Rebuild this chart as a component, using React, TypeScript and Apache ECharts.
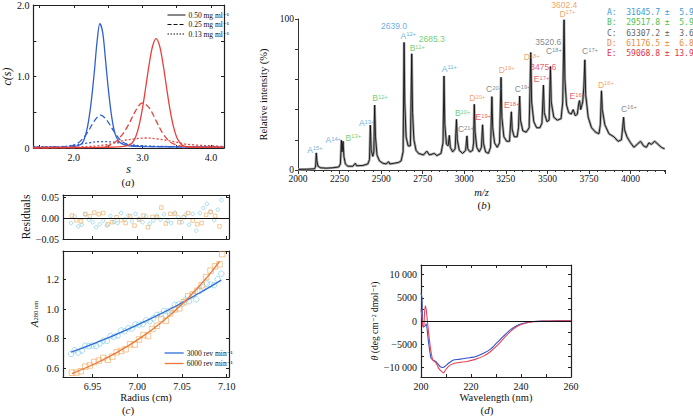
import React, { useEffect, useRef } from 'react';
import * as echarts from 'echarts';

const SERIF = "'Liberation Serif', 'DejaVu Serif', serif";
const SANS = "'Liberation Sans', 'DejaVu Sans', sans-serif";
const MONO = "'DejaVu Sans Mono', 'Liberation Mono', monospace";

// ---------- (a) c(s) distributions: [s, c(s)]
const aBlue050 = [[1.41,0.01],[1.9,0.01],[2.0,0.02],[2.1,0.05],[2.15,0.12],[2.2,0.3],[2.25,0.62],[2.3,1.08],[2.34,1.5],[2.38,1.74],[2.42,1.62],[2.46,1.25],[2.5,0.85],[2.55,0.45],[2.6,0.2],[2.65,0.1],[2.7,0.06],[2.8,0.03],[3.0,0.02],[4.19,0.01]];
const aBlue025 = [[1.41,0.01],[1.9,0.02],[2.0,0.04],[2.1,0.1],[2.2,0.22],[2.3,0.38],[2.39,0.46],[2.48,0.39],[2.58,0.24],[2.68,0.11],[2.78,0.05],[2.9,0.03],[3.2,0.02],[4.19,0.01]];
const aBlue013 = [[1.41,0.02],[1.8,0.02],[2.0,0.04],[2.2,0.07],[2.4,0.09],[2.6,0.08],[2.8,0.05],[3.0,0.03],[3.5,0.02],[4.19,0.02]];
const aRed050 = [[1.41,0.0],[2.4,0.01],[2.7,0.02],[2.8,0.04],[2.85,0.07],[2.9,0.15],[2.95,0.31],[3.0,0.55],[3.05,0.86],[3.1,1.18],[3.15,1.43],[3.2,1.53],[3.25,1.43],[3.3,1.18],[3.35,0.86],[3.4,0.55],[3.45,0.31],[3.5,0.15],[3.55,0.07],[3.6,0.03],[3.7,0.01],[4.19,0.01]];
const aRed025 = [[1.41,0.0],[2.4,0.01],[2.5,0.03],[2.6,0.08],[2.7,0.18],[2.8,0.33],[2.9,0.52],[3.0,0.63],[3.1,0.56],[3.2,0.38],[3.3,0.2],[3.4,0.09],[3.5,0.04],[3.6,0.02],[4.19,0.01]];
const aRed013 = [[1.41,0.01],[2.2,0.02],[2.5,0.05],[2.7,0.1],[2.9,0.13],[3.05,0.14],[3.2,0.13],[3.4,0.1],[3.6,0.06],[3.8,0.04],[4.0,0.03],[4.19,0.02]];
const aLegend = ['0.50 mg ml\u207B\u00B9', '0.25 mg ml\u207B\u00B9', '0.13 mg ml\u207B\u00B9'];

// ---------- (b) mass spectrum: [m/z, relative intensity]
const spectrum = [[2000,0.4],[2050,0.5],[2100,0.8],[2106,2.5],[2110,11.3],[2114,6],[2120,2.5],[2135,1.5],[2170,1.2],[2210,1.5],[2245,2],[2255,4],[2261,19.7],[2265,12],[2271,19],[2276,9],[2285,4],[2300,2.5],[2330,2.5],[2345,4.5],[2352,2.8],[2390,3],[2420,4],[2430,7],[2435,29.7],[2440,13],[2450,9],[2456,12],[2461,43],[2466,22],[2475,10],[2490,6],[2510,4.5],[2530,4],[2545,5.5],[2552,4],[2580,4.5],[2605,5],[2620,6],[2632,12],[2638,84.5],[2642,45],[2650,22],[2662,16],[2676,16],[2684,77],[2689,38],[2697,20],[2710,13],[2725,11],[2755,10],[2775,12.5],[2790,10],[2820,11],[2835,9.5],[2860,11],[2872,18],[2878,62.3],[2883,30],[2893,17],[2903,16],[2910,23],[2916,15],[2930,12],[2945,14],[2953,33.5],[2958,20],[2970,13],[2990,11],[3008,13],[3016,22.6],[3021,14],[3035,12],[3050,13],[3056,18],[3060,43.5],[3065,25],[3075,15],[3090,12],[3103,15],[3110,30],[3115,18],[3128,12],[3145,11],[3158,15],[3166,48.6],[3171,28],[3182,18],[3198,15],[3212,18],[3221,61.4],[3226,35],[3238,22],[3255,19],[3272,19],[3283,38.6],[3288,27],[3300,22],[3318,22],[3326,28],[3333,49],[3338,33],[3352,26],[3372,25],[3390,28],[3400,77.8],[3405,45],[3418,32],[3435,28],[3455,28],[3467,31],[3476,56.3],[3481,38],[3497,32],[3510,33],[3518,68.5],[3523,45],[3538,35],[3560,33],[3582,34],[3592,45],[3600,99.5],[3605,60],[3615,43],[3628,38],[3643,37],[3655,40],[3667,36],[3680,37],[3688,44],[3693,46],[3700,40],[3712,45],[3719,55],[3725,73],[3730,50],[3745,35],[3765,28],[3790,25],[3810,24],[3818,30],[3825,52.5],[3830,40],[3845,30],[3870,24],[3900,22],[3925,19],[3945,20],[3952,28],[3958,35],[3963,27],[3978,22],[4000,18],[4020,15],[4040,17],[4060,19],[4078,16],[4095,15],[4110,18],[4125,17],[4145,19],[4165,17],[4185,15],[4205,14]];
// charge-state annotations: [charge, m/z, intensity] where the label sits
const ionsA = [['15+',2102,13.5],['14+',2212,19.7],['13+',2413,31],['12+',2663,89],['11+',2910,67]];
const ionsB = [['13+',2333,21.5],['12+',2493,47.5],['11+',2717,80.7],['10+',2990,37.5]];
const ionsC = [['21+',3010,27],['20+',3179,53.4],['19+',3351,53.7],['18+',3539,78.5],['17+',3756,78.5],['16+',3990,40.6]];
const ionsD = [['20+',3078,47.5],['19+',3255,66.3],['18+',3405,74.7],['17+',3620,103.5],['16+',3852,56.3]];
const ionsE = [['19+',3114,34.8],['18+',3285,43],['17+',3465,60],['16+',3680,49]];
// measured m/z annotations: [text, protein, m/z, intensity]
const mzNotes = [['2639.0','A',2577,95.1],['2685.3','B',2804,86.7],['3475.6','E',3475,68.5],['3520.6','C',3505,85],['3602.4','D',3601,109.5]];
// mass table
const tableIds = ['A', 'B', 'C', 'D', 'E'];
const tableMass = ['31645.7', '29517.8', '63307.2', '61176.5', '59068.8'];
const tableErr = ['5.9', '5.9', '3.6', '6.8', '13.9'];

// ---------- (c) sedimentation equilibrium
const c3000Obs = [[6.926,0.696],[6.930,0.721],[6.934,0.706],[6.938,0.719],[6.942,0.752],[6.946,0.749],[6.950,0.753],[6.954,0.750],[6.958,0.767],[6.962,0.786],[6.966,0.784],[6.970,0.817],[6.974,0.813],[6.978,0.820],[6.982,0.855],[6.986,0.850],[6.990,0.870],[6.994,0.867],[6.998,0.896],[7.002,0.895],[7.006,0.898],[7.010,0.924],[7.014,0.918],[7.018,0.937],[7.022,0.961],[7.026,0.963],[7.030,0.988],[7.034,0.984],[7.038,0.992],[7.042,1.029],[7.046,1.031],[7.050,1.032],[7.054,1.063],[7.058,1.053],[7.062,1.092],[7.066,1.066],[7.070,1.122],[7.074,1.148],[7.078,1.172],[7.082,1.166],[7.086,1.162],[7.090,1.202],[7.094,1.239]];
const c3000Fit = [[6.926,0.708],[6.950,0.763],[6.974,0.822],[6.998,0.886],[7.022,0.955],[7.046,1.029],[7.070,1.110],[7.094,1.196]];
const c3000Res = [[6.926,-0.012],[6.930,0.004],[6.934,-0.020],[6.938,-0.016],[6.942,0.008],[6.946,-0.004],[6.950,-0.010],[6.954,-0.022],[6.958,-0.015],[6.962,-0.006],[6.966,-0.018],[6.970,0.005],[6.974,-0.009],[6.978,-0.012],[6.982,0.012],[6.986,-0.003],[6.990,0.006],[6.994,-0.008],[6.998,0.010],[7.002,-0.002],[7.006,-0.010],[7.010,0.004],[7.014,-0.013],[7.018,-0.006],[7.022,0.006],[7.026,-0.004],[7.030,0.009],[7.034,-0.007],[7.038,-0.012],[7.042,0.013],[7.046,0.002],[7.050,-0.010],[7.054,0.008],[7.058,-0.016],[7.062,0.010],[7.066,-0.030],[7.070,0.012],[7.074,0.024],[7.078,0.034],[7.082,0.014],[7.086,-0.005],[7.090,0.020],[7.094,0.043]];
const c6000Obs = [[6.927,0.569],[6.932,0.570],[6.937,0.579],[6.942,0.610],[6.947,0.618],[6.952,0.641],[6.957,0.651],[6.962,0.669],[6.967,0.657],[6.972,0.678],[6.977,0.707],[6.982,0.717],[6.987,0.728],[6.992,0.762],[6.997,0.759],[7.002,0.794],[7.007,0.824],[7.012,0.817],[7.017,0.865],[7.022,0.887],[7.027,0.934],[7.032,0.921],[7.037,0.970],[7.042,0.997],[7.047,1.005],[7.052,1.046],[7.057,1.086],[7.062,1.100],[7.067,1.124],[7.072,1.161],[7.077,1.216],[7.082,1.260],[7.087,1.289],[7.092,1.303],[7.095,1.372]];
const c6000Fit = [[6.927,0.563],[6.952,0.628],[6.977,0.705],[7.002,0.798],[7.027,0.909],[7.052,1.044],[7.077,1.208],[7.092,1.323]];
const c6000Res = [[6.927,0.006],[6.932,-0.005],[6.937,-0.008],[6.942,0.010],[6.947,0.004],[6.952,0.013],[6.957,0.009],[6.962,0.012],[6.967,-0.015],[6.972,-0.010],[6.977,0.002],[6.982,-0.005],[6.987,-0.012],[6.992,0.004],[6.997,-0.018],[7.002,-0.004],[7.007,0.006],[7.012,-0.022],[7.017,0.003],[7.022,0.002],[7.027,0.025],[7.032,-0.013],[7.037,0.010],[7.042,0.010],[7.047,-0.010],[7.052,0.002],[7.057,0.012],[7.062,-0.006],[7.067,-0.015],[7.072,-0.012],[7.077,0.008],[7.082,0.015],[7.087,0.005],[7.092,-0.020]];
const cLegend = ['3000 rev min\u207B\u00B9', '6000 rev min\u207B\u00B9'];

// ---------- (d) CD spectra: [wavelength, theta]
const cdBlue = [[200,6100],[200.4,5000],[200.7,-1000],[201.2,-1200],[201.7,-1000],[202.1,-600],[203,-4500],[204,-8000],[205.1,-8500],[206.1,-8800],[207,-9400],[207.7,-9850],[208.8,-10000],[209.7,-9700],[211,-9100],[213,-8400],[215,-8250],[218.4,-7950],[221.7,-7700],[225,-6950],[227.7,-6100],[230.4,-4650],[233.1,-3200],[235.7,-1900],[238.4,-950],[241,-450],[245,-80],[249,0],[254.4,70],[260,70]];
const cdRed = [[200,2500],[200.4,800],[200.7,-1150],[201.1,-1300],[201.4,1500],[201.7,3300],[202.1,2450],[202.7,-800],[203.7,-5500],[204.7,-8400],[205.7,-8800],[206.5,-9500],[207.1,-10200],[208.4,-10950],[209.1,-11150],[209.7,-10600],[211.1,-9700],[213.1,-9150],[215.7,-8900],[218.4,-8700],[221.7,-8250],[225,-7550],[227.7,-6600],[230.4,-5300],[233.1,-3700],[235.7,-2250],[238.4,-1150],[241,-580],[245,-150],[249,0],[254.4,60],[260,70]];

const protColor: Record<string, string> = { A: '#3b9bd8', B: '#4cbf4c', C: '#5f6770', D: '#ef8c3a', E: '#e6323f' };
const INK = '#222';

function boxAxis(grid: number, pos: string, min: number, max: number, ticks: number[] | null, labels: number[] | null, fmt: any, extra: any = {}) {
  const a: any = {
    type: 'value', gridIndex: grid, position: pos, min, max,
    axisLine: { show: true, onZero: false, lineStyle: { color: INK, width: 1.2 } },
    axisTick: { show: true, inside: true, length: 3, lineStyle: { color: INK, width: 1 } },
    axisLabel: labels ? { show: true, customValues: labels, formatter: fmt, fontSize: 10, color: '#111', fontFamily: SERIF, margin: 4 } : { show: false },
    splitLine: { show: false },
    nameTextStyle: { fontFamily: SERIF, fontSize: 10.5, color: '#111' },
  };
  if (ticks) a.axisTick.customValues = ticks;
  return Object.assign(a, extra);
}

const minus = (s: string) => s.replace('-', '\u2212');

function ionSeries(letter: string, list: any[]) {
  const col = protColor[letter];
  return {
    type: 'scatter', xAxisIndex: 2, yAxisIndex: 2, symbolSize: 0, clip: false, silent: true, z: 5,
    data: list.map((d) => ({ value: [d[1], d[2]], name: d[0] })),
    label: {
      show: true, position: 'inside',
      formatter: (p: any) => `{m|${letter}}{s|${p.name}}`,
      rich: {
        m: { fontSize: 8.5, color: col, fontFamily: SANS },
        s: { fontSize: 5.8, color: col, fontFamily: SANS, verticalAlign: 'top' },
      },
    },
  };
}

export default function App() {
  const ref = useRef<HTMLDivElement>(null);
  useEffect(() => {
    if (!ref.current) return;
    const chart = echarts.init(ref.current, null, { renderer: 'svg' });
    const series: any[] = [];
    // (a)
    const aSet: [any[], string, string][] = [
      [aBlue050, '#2f5fd0', 'solid'], [aBlue025, '#2f5fd0', 'dashed'], [aBlue013, '#2f5fd0', 'dotted'],
      [aRed050, '#e8403a', 'solid'], [aRed025, '#e8403a', 'dashed'], [aRed013, '#e8403a', 'dotted'],
    ];
    aSet.forEach(([d, c, t]) => series.push({
      type: 'line', xAxisIndex: 0, yAxisIndex: 0, data: d, smooth: 0.35, symbol: 'none', silent: true,
      lineStyle: { color: c, width: 1.3, type: t === 'dashed' ? [6, 3] : t === 'dotted' ? [2, 2] : 'solid' },
    }));
    ['solid', 'dashed', 'dotted'].forEach((t, i) => series.push({
      type: 'line', name: aLegend[i], xAxisIndex: 0, yAxisIndex: 0, data: [], symbol: 'none', showSymbol: false, color: '#111',
      lineStyle: { color: '#111', width: 1, type: t === 'dashed' ? [4, 2] : t === 'dotted' ? [1.5, 1.5] : 'solid' },
    }));
    // (b)
    series.push({ type: 'line', xAxisIndex: 2, yAxisIndex: 2, data: spectrum, symbol: 'none', silent: true,
      lineStyle: { color: '#a8a8a8', width: 2.6 } });
    series.push({ type: 'line', xAxisIndex: 2, yAxisIndex: 2, data: spectrum, symbol: 'none', silent: true,
      lineStyle: { color: '#111', width: 0.9 } });
    series.push(ionSeries('A', ionsA), ionSeries('B', ionsB), ionSeries('C', ionsC), ionSeries('D', ionsD), ionSeries('E', ionsE));
    series.push({
      type: 'scatter', xAxisIndex: 2, yAxisIndex: 2, symbolSize: 0, clip: false, silent: true, z: 5,
      data: mzNotes.map((d) => ({ value: [d[2], d[3]], name: d[0], label: { color: protColor[d[1] as string] } })),
      label: { show: true, position: 'inside', formatter: (p: any) => p.name, fontSize: 8.5, fontFamily: SANS },
    });
    // (c) residuals
    series.push({ type: 'scatter', xAxisIndex: 3, yAxisIndex: 3, data: c3000Res, symbol: 'circle', symbolSize: 3.5, silent: true,
      itemStyle: { color: 'rgba(0,0,0,0)', borderColor: '#79c9e6', borderWidth: 0.8 },
      markLine: { silent: true, symbol: 'none', label: { show: false }, lineStyle: { color: '#111', width: 1, type: 'solid' }, data: [{ yAxis: 0 }] } });
    series.push({ type: 'scatter', xAxisIndex: 3, yAxisIndex: 3, data: c6000Res, symbol: 'rect', symbolSize: 3.5, silent: true,
      itemStyle: { color: 'rgba(0,0,0,0)', borderColor: '#f0a85a', borderWidth: 0.8 } });
    // (c) data + fits
    series.push({ type: 'scatter', xAxisIndex: 5, yAxisIndex: 5, data: c3000Obs, symbol: 'circle', symbolSize: 5.5, silent: true,
      itemStyle: { color: 'rgba(0,0,0,0)', borderColor: '#79c9e6', borderWidth: 0.8 } });
    series.push({ type: 'scatter', xAxisIndex: 5, yAxisIndex: 5, data: c6000Obs, symbol: 'rect', symbolSize: 5.5, silent: true,
      itemStyle: { color: 'rgba(0,0,0,0)', borderColor: '#f0a85a', borderWidth: 0.8 } });
    series.push({ type: 'line', name: cLegend[0], xAxisIndex: 5, yAxisIndex: 5, data: c3000Fit, smooth: 0.4, symbol: 'none', showSymbol: false, silent: true, color: '#2f6fd6',
      lineStyle: { color: '#2f6fd6', width: 1.3 } });
    series.push({ type: 'line', name: cLegend[1], xAxisIndex: 5, yAxisIndex: 5, data: c6000Fit, smooth: 0.4, symbol: 'none', showSymbol: false, silent: true, color: '#ea7a3c',
      lineStyle: { color: '#ea7a3c', width: 1.3 } });
    // (d)
    series.push({ type: 'line', xAxisIndex: 7, yAxisIndex: 7, data: cdBlue, smooth: 0.2, symbol: 'none', silent: true,
      lineStyle: { color: '#3450c8', width: 1.1 },
      markLine: { silent: true, symbol: 'none', label: { show: false }, lineStyle: { color: '#111', width: 1, type: 'solid' }, data: [{ yAxis: 0 }] } });
    series.push({ type: 'line', xAxisIndex: 7, yAxisIndex: 7, data: cdRed, smooth: 0.2, symbol: 'none', silent: true,
      lineStyle: { color: '#e2465a', width: 1.1 } });

    const f1 = (v: number) => v.toFixed(1);
    const f2 = (v: number) => minus(v.toFixed(2));
    const cdFmt = (v: number) => {
      const a = Math.abs(v);
      const s = a >= 10000 ? `${Math.floor(a / 1000)} ${String(a % 1000).padStart(3, '0')}` : String(a);
      return v < 0 ? '\u2212' + s : s;
    };
    const cRange = [6.917, 7.1026];
    const cTicks = [6.95, 7.0, 7.05, 7.1];
    const legendCommon = {
      orient: 'vertical', itemHeight: 7, selectedMode: false,
      itemStyle: { color: 'rgba(0,0,0,0)', borderWidth: 0, opacity: 0 },
      textStyle: { fontSize: 7.5, color: '#111', fontFamily: SERIF, padding: [0, 0, 0, -2] },
    };

    const option: any = {
      animation: false,
      textStyle: { fontFamily: SERIF },
      grid: [
        { left: 31, top: 3, width: 193, height: 145 },
        { left: 298, top: 19, width: 367, height: 151 },
        { left: 63, top: 195, width: 166, height: 44 },
        { left: 63, top: 251, width: 166, height: 126 },
        { left: 421, top: 265, width: 150, height: 112 },
      ],
      xAxis: [
        boxAxis(0, 'bottom', 1.41, 4.19, [1.5, 2, 2.5, 3, 3.5, 4], [2, 3, 4], f1,
          { name: 's', nameLocation: 'middle', nameGap: 14, nameTextStyle: { fontFamily: SERIF, fontSize: 12, fontStyle: 'italic', color: '#111' } }),
        boxAxis(0, 'top', 1.41, 4.19, [1.5, 2, 2.5, 3, 3.5, 4], null, null),
        {
          type: 'value', gridIndex: 1, position: 'bottom', min: 2000, max: 4207, interval: 250,
          axisLine: { show: true, onZero: false, lineStyle: { color: '#333', width: 1 } },
          axisTick: { show: true, inside: false, length: 4, lineStyle: { color: '#333' } },
          minorTick: { show: true, splitNumber: 5, length: 2, lineStyle: { color: '#333' } },
          axisLabel: { fontSize: 9.5, color: '#111', fontFamily: SERIF, margin: 4, showMaxLabel: false, formatter: (v: number) => String(v) },
          splitLine: { show: false },
          name: 'm/z', nameLocation: 'middle', nameGap: 17,
          nameTextStyle: { fontFamily: SERIF, fontSize: 10.5, fontStyle: 'italic', color: '#111' },
        },
        boxAxis(2, 'bottom', cRange[0], cRange[1], cTicks, null, null),
        boxAxis(2, 'top', cRange[0], cRange[1], cTicks, null, null),
        boxAxis(3, 'bottom', cRange[0], cRange[1], cTicks, cTicks, f2,
          { name: 'Radius (cm)', nameLocation: 'middle', nameGap: 15 }),
        boxAxis(3, 'top', cRange[0], cRange[1], cTicks, null, null),
        boxAxis(4, 'bottom', 200, 260, [200, 210, 220, 230, 240, 250, 260], [200, 220, 240, 260], (v: number) => String(v),
          { name: 'Wavelength (nm)', nameLocation: 'middle', nameGap: 15 }),
        boxAxis(4, 'top', 200, 260, [200, 210, 220, 230, 240, 250, 260], null, null),
      ],
      yAxis: [
        boxAxis(0, 'left', 0, 2, [0, 0.5, 1, 1.5, 2], [0, 1, 2], (v: number) => (v === 0 ? '0' : v.toFixed(1)),
          { name: 'c(s)', nameLocation: 'middle', nameGap: 19, nameTextStyle: { fontFamily: SERIF, fontSize: 12, fontStyle: 'italic', color: '#111' } }),
        boxAxis(0, 'right', 0, 2, [0, 0.5, 1, 1.5, 2], null, null),
        {
          type: 'value', gridIndex: 1, position: 'left', min: 0, max: 100, interval: 20,
          axisLine: { show: true, onZero: false, lineStyle: { color: '#333', width: 1 } },
          axisTick: { show: true, inside: false, length: 3, lineStyle: { color: '#333' } },
          axisLabel: { fontSize: 9.5, color: '#111', fontFamily: SERIF, margin: 4, formatter: (v: number) => (v === 0 || v === 100 ? String(v) : '') },
          splitLine: { show: false },
          name: 'Relative intensity (%)', nameLocation: 'middle', nameGap: 18,
          nameTextStyle: { fontFamily: SERIF, fontSize: 10.5, color: '#111' },
        },
        boxAxis(2, 'left', -0.05, 0.055, [-0.05, 0, 0.05], [-0.05, 0, 0.05], f2,
          { name: 'Residuals', nameLocation: 'middle', nameGap: 26, nameTextStyle: { fontFamily: SERIF, fontSize: 11.5, color: '#111' } }),
        boxAxis(2, 'right', -0.05, 0.055, [-0.05, 0, 0.05], null, null),
        boxAxis(3, 'left', 0.54, 1.393, [0.6, 0.8, 1.0, 1.2], [0.6, 0.8, 1.0, 1.2], f1,
          { name: '{i|A}{sub|280 nm}', nameLocation: 'middle', nameGap: 24,
            nameTextStyle: { fontFamily: SERIF, fontSize: 10.5, color: '#111',
              rich: { i: { fontStyle: 'italic', fontSize: 11, fontFamily: SERIF }, sub: { fontSize: 6.5, fontFamily: SERIF, verticalAlign: 'bottom' } } } }),
        boxAxis(3, 'right', 0.54, 1.393, [0.6, 0.8, 1.0, 1.2], null, null),
        boxAxis(4, 'left', -12050, 12100, [-10000, -7500, -5000, -2500, 0, 2500, 5000, 7500, 10000], [-10000, -5000, 0, 5000, 10000], cdFmt,
          { name: '{i|\u03B8} (deg cm\u207B\u00B2 dmol\u207B\u00B9)', nameLocation: 'middle', nameGap: 38,
            nameTextStyle: { fontFamily: SERIF, fontSize: 9.5, color: '#111', rich: { i: { fontStyle: 'italic', fontFamily: SERIF, fontSize: 10 } } } }),
        boxAxis(4, 'right', -12050, 12100, [-10000, -7500, -5000, -2500, 0, 2500, 5000, 7500, 10000], null, null),
      ],
      legend: [
        { ...legendCommon, data: aLegend, left: 162, top: 6, itemWidth: 18, itemGap: 1.5, lineStyle: { width: 1 } },
        { ...legendCommon, data: cLegend, left: 159, top: 344, itemWidth: 19, itemGap: 2.5, lineStyle: { width: 1.3 } },
      ],
      graphic: [
        ...tableIds.map((id, i) => ({
          type: 'text', x: 607, y: 12.3 + i * 10.4, silent: true,
          style: {
            text: `${id}:  ${tableMass[i]} \u00B1 ${tableErr[i].padStart(4, ' ')}`,
            fill: protColor[id], font: `8px ${MONO}`, verticalAlign: 'middle', align: 'left',
          },
        })),
        ...[['a', 128, 182], ['b', 484, 205], ['c', 128, 409.5], ['d', 487, 409.5]].map(([t, x, y]) => ({
          type: 'text', x, y, silent: true,
          style: {
            text: `({i|${t}})`, fill: '#111', fontFamily: SERIF, fontSize: 11, align: 'center', verticalAlign: 'middle',
            rich: { i: { fontStyle: 'italic', fontFamily: SERIF, fontSize: 11, fill: '#111' } },
          },
        })),
      ],
      series,
    };
    chart.setOption(option);
    return () => chart.dispose();
  }, []);
  return <div ref={ref} style={{ position: 'absolute', left: 0, top: 0, width: 693, height: 416, background: '#fff' }} />;
}
